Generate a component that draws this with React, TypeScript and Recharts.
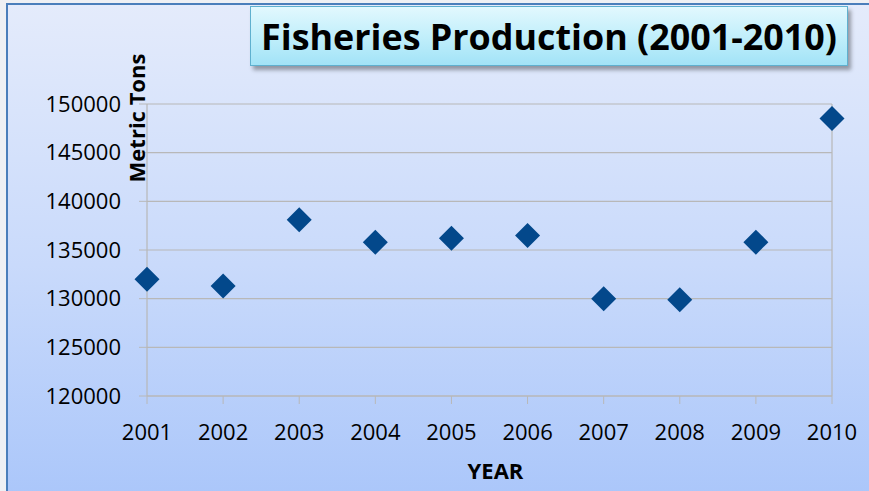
import React from 'react';
import {
  ScatterChart,
  Scatter,
  XAxis,
  YAxis,
  CartesianGrid,
  ReferenceLine,
  Label
} from 'recharts';

// Fisheries production, metric tons per year
const years = [2001, 2002, 2003, 2004, 2005, 2006, 2007, 2008, 2009, 2010];
const production = [132000, 131300, 138100, 135800, 136200, 136500, 130000, 129900, 135800, 148500];
const yTicks = [120000, 125000, 130000, 135000, 140000, 145000, 150000];

const FONT = '"Open Sans", "DejaVu Sans", sans-serif';
const GRID = '#b8b8b8';

const Diamond = (props: any) => {
  const { cx, cy } = props;
  const r = 12.5;
  return (
    <path
      d={`M${cx},${cy - r} L${cx + r},${cy} L${cx},${cy + r} L${cx - r},${cy} Z`}
      fill="#03488b"
    />
  );
};

const MetricLabel = () => (
  <text
    x={145}
    y={118}
    transform="rotate(-90 145 118)"
    textAnchor="middle"
    fontFamily={FONT}
    fontWeight={700}
    fontSize={22}
    fill="#000"
  >
    Metric Tons
  </text>
);

export default function App() {
  const data = years.map((year, i) => ({ year, tons: production[i] }));

  return (
    <div style={{ position: 'absolute', left: 0, top: 0, width: 869, height: 491, overflow: 'hidden', background: '#eef0f4' }}>
      {/* chart area background with outer border */}
      <div
        style={{
          position: 'absolute',
          left: 6,
          top: 3,
          width: 900,
          height: 520,
          borderLeft: '2px solid #4a7ebb',
          borderTop: '2px solid #4a7ebb',
          background: 'linear-gradient(180deg, #e4ebfb 0%, #c9dafb 50%, #a7c4fa 100%)'
        }}
      />
      <div style={{ position: 'absolute', left: 0, top: 0 }}>
        <ScatterChart width={869} height={491} margin={{ top: 104, right: 37, bottom: 0, left: 0 }}>
          <CartesianGrid vertical={false} stroke={GRID} strokeWidth={1.2} />
          <XAxis
            type="number"
            dataKey="year"
            domain={[2001, 2010]}
            ticks={years}
            height={95}
            tickSize={8}
            tickMargin={20}
            stroke={GRID}
            axisLine={{ stroke: GRID, strokeWidth: 1.2 }}
            tickLine={{ stroke: GRID }}
            tick={{ fill: '#000', fontSize: 22, fontFamily: FONT }}
          >
            <Label
              value="YEAR"
              position="insideBottom"
              offset={12}
              dx={6}
              fill="#000"
              fontSize={22}
              fontWeight={700}
              fontFamily={FONT}
            />
          </XAxis>
          <YAxis
            type="number"
            dataKey="tons"
            domain={[120000, 150000]}
            ticks={yTicks}
            width={147}
            tickSize={8}
            tickMargin={18}
            stroke={GRID}
            axisLine={{ stroke: GRID, strokeWidth: 1.2 }}
            tickLine={{ stroke: GRID }}
            tick={{ fill: '#000', fontSize: 22, fontFamily: FONT }}
            label={<MetricLabel />}
          />
          <ReferenceLine x={2010} stroke={GRID} strokeWidth={1.2} />
          <Scatter data={data} shape={<Diamond />} isAnimationActive={false} />
        </ScatterChart>
      </div>
      {/* title box */}
      <div
        style={{
          position: 'absolute',
          left: 250,
          top: 6,
          width: 596,
          height: 58,
          border: '1.5px solid #5fb0cf',
          background: 'linear-gradient(180deg, #e2f8fe 0%, #c2effb 50%, #a2e3f7 100%)',
          boxShadow: '3px 4px 4px rgba(0,0,0,0.35)'
        }}
      >
        <svg width={596} height={58} style={{ display: 'block' }}>
          <text
            x={10}
            y={43}
            fontFamily={FONT}
            fontWeight={700}
            fontSize={36}
            fill="#000"
            textLength={576}
            lengthAdjust="spacingAndGlyphs"
          >
            Fisheries Production (2001-2010)
          </text>
        </svg>
      </div>
    </div>
  );
}
